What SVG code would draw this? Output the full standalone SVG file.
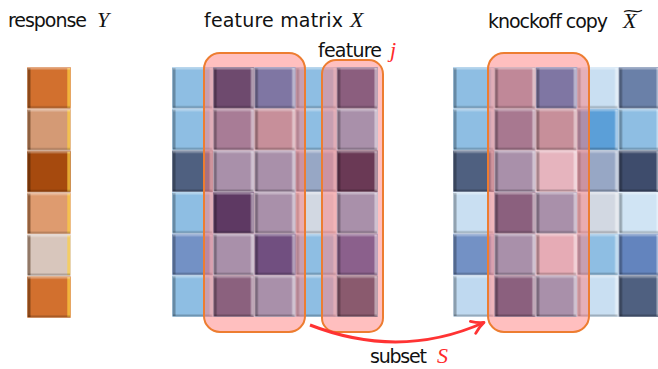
<svg xmlns="http://www.w3.org/2000/svg" width="658" height="369" viewBox="0 0 658 369">
<style>
.sans{font-family:"DejaVu Sans","Liberation Sans",sans-serif;font-size:19px;fill:#111}
.math{font-family:"Liberation Serif","DejaVu Serif",serif;font-style:italic;font-size:22px;fill:#111}
.tilde{font-family:"DejaVu Sans","Liberation Sans",sans-serif;font-size:16px;fill:#111}
.red{fill:#FF2A2A}
.ov{fill:#FF8080;fill-opacity:0.5;stroke:none}
.ovs{fill:none;stroke:#ED7D31;stroke-width:2}
.conn{fill:none;stroke:#FF3333;stroke-width:3}
</style>
<defs>
<pattern id="bevX" patternUnits="userSpaceOnUse" x="172" y="67" width="41.2" height="41.667">
<rect x="0" y="0" width="41.2" height="41.667" fill="none" stroke="#ffffff" stroke-opacity="0.5" stroke-width="1"/>
<rect x="0.5" y="1" width="3" height="39.6" fill="#000" fill-opacity="0.28"/>
<rect x="37.7" y="1" width="3" height="39.6" fill="#fff" fill-opacity="0.45"/>
<rect x="1" y="0.5" width="39" height="2" fill="#fff" fill-opacity="0.3"/>
<rect x="1" y="39.2" width="39" height="2" fill="#000" fill-opacity="0.22"/>
</pattern>
<pattern id="bevK" patternUnits="userSpaceOnUse" x="453" y="67" width="41.4" height="41.667">
<rect x="0" y="0" width="41.4" height="41.667" fill="none" stroke="#ffffff" stroke-opacity="0.5" stroke-width="1"/>
<rect x="0.5" y="1" width="3" height="39.6" fill="#000" fill-opacity="0.28"/>
<rect x="37.9" y="1" width="3" height="39.6" fill="#fff" fill-opacity="0.45"/>
<rect x="1" y="0.5" width="39.2" height="2" fill="#fff" fill-opacity="0.3"/>
<rect x="1" y="39.2" width="39.2" height="2" fill="#000" fill-opacity="0.22"/>
</pattern>
<pattern id="bevY" patternUnits="userSpaceOnUse" x="27" y="67" width="44" height="41.833">
<rect x="0" y="0" width="44" height="41.833" fill="none" stroke="#ffffff" stroke-opacity="0.6" stroke-width="1"/>
<rect x="0.5" y="1" width="3" height="39.8" fill="#3a1800" fill-opacity="0.45"/>
<rect x="40.3" y="1" width="3" height="39.8" fill="#FFD040" fill-opacity="0.7"/>
<rect x="1" y="0.5" width="42" height="2" fill="#fff" fill-opacity="0.3"/>
<rect x="1" y="39.3" width="42" height="2" fill="#000" fill-opacity="0.2"/>
</pattern>
<marker id="arr" viewBox="0 0 16 16" refX="14" refY="8" markerWidth="16" markerHeight="16" markerUnits="userSpaceOnUse" orient="auto">
<path d="M2,1.5 Q8,6 14,8 Q8,10 2,14.5" fill="none" stroke="#FF3333" stroke-width="2.8" stroke-linecap="round" stroke-linejoin="round"/>
</marker>
</defs>

<g id="response-Y">
<text x="8" y="27"><tspan class="sans" textLength="79" lengthAdjust="spacing">response</tspan><tspan class="math" x="97">Y</tspan></text>
<rect x="27" y="67" width="44" height="41.833" fill="#D2702E"/>
<rect x="27" y="108.833" width="44" height="41.833" fill="#D49A75"/>
<rect x="27" y="150.667" width="44" height="41.833" fill="#A64A0E"/>
<rect x="27" y="192.5" width="44" height="41.833" fill="#DE9B6F"/>
<rect x="27" y="234.333" width="44" height="41.833" fill="#D8C6BC"/>
<rect x="27" y="276.167" width="44" height="41.833" fill="#D2702E"/>
<rect x="27" y="67" width="44" height="251" fill="url(#bevY)"/>
</g>

<g id="feature-matrix-X">
<text x="204" y="27"><tspan class="sans" textLength="139" lengthAdjust="spacing">feature matrix</tspan><tspan class="math" x="350">X</tspan></text>
<g id="X-col1">
<rect x="172" y="67" width="41.2" height="41.667" fill="#8EBEE3"/>
<rect x="172" y="108.667" width="41.2" height="41.667" fill="#8EBEE3"/>
<rect x="172" y="150.333" width="41.2" height="41.667" fill="#4F6080"/>
<rect x="172" y="192" width="41.2" height="41.667" fill="#8EBEE3"/>
<rect x="172" y="233.667" width="41.2" height="41.667" fill="#7391C5"/>
<rect x="172" y="275.333" width="41.2" height="41.667" fill="#8EBEE3"/>
</g>
<g id="X-col4">
<rect x="295.6" y="67" width="41.2" height="41.667" fill="#8EBEE3"/>
<rect x="295.6" y="108.667" width="41.2" height="41.667" fill="#8EBEE3"/>
<rect x="295.6" y="150.333" width="41.2" height="41.667" fill="#97A7C5"/>
<rect x="295.6" y="192" width="41.2" height="41.667" fill="#D2D8E2"/>
<rect x="295.6" y="233.667" width="41.2" height="41.667" fill="#8EBEE3"/>
<rect x="295.6" y="275.333" width="41.2" height="41.667" fill="#8EBEE3"/>
</g>
<rect x="172" y="67" width="41.2" height="250" fill="url(#bevX)"/>
<rect x="295.6" y="67" width="41.2" height="250" fill="url(#bevX)"/>
</g>

<g id="subset-S-in-X">
<rect class="ov" x="204" y="53" width="101" height="279" rx="16"/>
<g id="X-col2">
<rect x="213.2" y="67" width="41.2" height="41.667" fill="#6E4A6E"/>
<rect x="213.2" y="108.667" width="41.2" height="41.667" fill="#A87C96"/>
<rect x="213.2" y="150.333" width="41.2" height="41.667" fill="#A990AA"/>
<rect x="213.2" y="192" width="41.2" height="41.667" fill="#5E3963"/>
<rect x="213.2" y="233.667" width="41.2" height="41.667" fill="#A990AA"/>
<rect x="213.2" y="275.333" width="41.2" height="41.667" fill="#8B617E"/>
</g>
<g id="X-col3">
<rect x="254.4" y="67" width="41.2" height="41.667" fill="#7F76A3"/>
<rect x="254.4" y="108.667" width="41.2" height="41.667" fill="#C78F9A"/>
<rect x="254.4" y="150.333" width="41.2" height="41.667" fill="#A990AA"/>
<rect x="254.4" y="192" width="41.2" height="41.667" fill="#A990AA"/>
<rect x="254.4" y="233.667" width="41.2" height="41.667" fill="#714F80"/>
<rect x="254.4" y="275.333" width="41.2" height="41.667" fill="#A990AA"/>
</g>
<rect x="213.2" y="67" width="82.4" height="250" fill="url(#bevX)"/>
<rect class="ovs" x="204" y="53" width="101" height="279" rx="16"/>
</g>

<g id="feature-j">
<text x="318" y="57"><tspan class="sans" textLength="64" lengthAdjust="spacing">feature</tspan><tspan class="math red" x="390">j</tspan></text>
<rect class="ov" x="322" y="60" width="61" height="272" rx="14"/>
<g id="X-col5">
<rect x="336.8" y="67" width="41.2" height="41.667" fill="#8B5E7E"/>
<rect x="336.8" y="108.667" width="41.2" height="41.667" fill="#A990AA"/>
<rect x="336.8" y="150.333" width="41.2" height="41.667" fill="#6A3955"/>
<rect x="336.8" y="192" width="41.2" height="41.667" fill="#A990AA"/>
<rect x="336.8" y="233.667" width="41.2" height="41.667" fill="#8B608C"/>
<rect x="336.8" y="275.333" width="41.2" height="41.667" fill="#8A5A6E"/>
</g>
<rect x="336.8" y="67" width="41.2" height="250" fill="url(#bevX)"/>
<rect class="ovs" x="322" y="60" width="61" height="272" rx="14"/>
</g>

<g id="knockoff-copy">
<text x="488" y="28"><tspan class="sans" textLength="120" lengthAdjust="spacing">knockoff copy</tspan><tspan class="math" x="623">X</tspan><tspan class="tilde" x="621" y="15.5" textLength="24" lengthAdjust="spacingAndGlyphs">~</tspan></text>
<g id="K-col1">
<rect x="453" y="67" width="41.4" height="41.667" fill="#8EBEE3"/>
<rect x="453" y="108.667" width="41.4" height="41.667" fill="#8EBEE3"/>
<rect x="453" y="150.333" width="41.4" height="41.667" fill="#4F6080"/>
<rect x="453" y="192" width="41.4" height="41.667" fill="#C9DFF2"/>
<rect x="453" y="233.667" width="41.4" height="41.667" fill="#7391C5"/>
<rect x="453" y="275.333" width="41.4" height="41.667" fill="#BFD9F0"/>
</g>
<g id="K-col4">
<rect x="577.2" y="67" width="41.4" height="41.667" fill="#C9DFF2"/>
<rect x="577.2" y="108.667" width="41.4" height="41.667" fill="#5B9FD8"/>
<rect x="577.2" y="150.333" width="41.4" height="41.667" fill="#97A7C5"/>
<rect x="577.2" y="192" width="41.4" height="41.667" fill="#D2D8E2"/>
<rect x="577.2" y="233.667" width="41.4" height="41.667" fill="#8EBEE3"/>
<rect x="577.2" y="275.333" width="41.4" height="41.667" fill="#C9DFF2"/>
</g>
<g id="K-col5">
<rect x="618.6" y="67" width="41.4" height="41.667" fill="#6A80A8"/>
<rect x="618.6" y="108.667" width="41.4" height="41.667" fill="#8EBEE3"/>
<rect x="618.6" y="150.333" width="41.4" height="41.667" fill="#3E4C6C"/>
<rect x="618.6" y="192" width="41.4" height="41.667" fill="#D0E4F4"/>
<rect x="618.6" y="233.667" width="41.4" height="41.667" fill="#6384BE"/>
<rect x="618.6" y="275.333" width="41.4" height="41.667" fill="#4F6080"/>
</g>
<rect x="453" y="67" width="41.4" height="250" fill="url(#bevK)"/>
<rect x="577.2" y="67" width="82.8" height="250" fill="url(#bevK)"/>
</g>

<g id="subset-S-in-knockoff">
<rect class="ov" x="488" y="53" width="101" height="279" rx="16"/>
<g id="K-col2">
<rect x="494.4" y="67" width="41.4" height="41.667" fill="#C08898"/>
<rect x="494.4" y="108.667" width="41.4" height="41.667" fill="#A87890"/>
<rect x="494.4" y="150.333" width="41.4" height="41.667" fill="#A990AA"/>
<rect x="494.4" y="192" width="41.4" height="41.667" fill="#8B607E"/>
<rect x="494.4" y="233.667" width="41.4" height="41.667" fill="#A990AA"/>
<rect x="494.4" y="275.333" width="41.4" height="41.667" fill="#8B607E"/>
</g>
<g id="K-col3">
<rect x="535.8" y="67" width="41.4" height="41.667" fill="#7F76A3"/>
<rect x="535.8" y="108.667" width="41.4" height="41.667" fill="#C78F9A"/>
<rect x="535.8" y="150.333" width="41.4" height="41.667" fill="#E6B4BE"/>
<rect x="535.8" y="192" width="41.4" height="41.667" fill="#A990AA"/>
<rect x="535.8" y="233.667" width="41.4" height="41.667" fill="#E6ABB5"/>
<rect x="535.8" y="275.333" width="41.4" height="41.667" fill="#A990AA"/>
</g>
<rect x="494.4" y="67" width="82.8" height="250" fill="url(#bevK)"/>
<rect class="ovs" x="488" y="53" width="101" height="279" rx="16"/>
</g>

<g id="connectors">
<path class="conn" d="M310,325 Q400,360 484,322.5" marker-end="url(#arr)"/>
<text x="370" y="363"><tspan class="sans" textLength="57" lengthAdjust="spacing">subset</tspan><tspan class="math red" x="437">S</tspan></text>
</g>
</svg>
